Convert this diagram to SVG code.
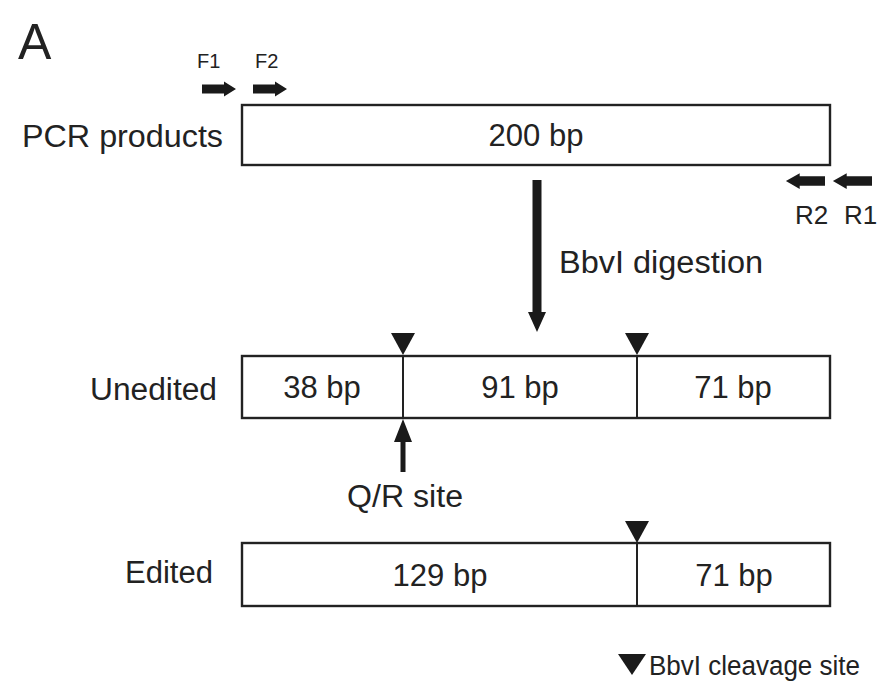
<svg xmlns="http://www.w3.org/2000/svg" width="884" height="682" viewBox="0 0 884 682">
<style>
text{font-family:"Liberation Sans",Arial,sans-serif;fill:#222}
.lbl{font-size:31px}
.sm{font-size:20px}
.box{fill:#fff;stroke:#222;stroke-width:2.4}
.div{stroke:#222;stroke-width:2}
.solid{fill:#1a1a1a}
</style>
<defs>
<polygon id="tri" points="-12,0 12,0 0,22"/>
<polygon id="rarrow" points="0,-4.5 22,-4.5 22,-7.5 34,0 22,7.5 22,4.5 0,4.5"/>
</defs>
<rect width="884" height="682" fill="#fff"/>
<text x="18" y="59" style="font-size:50px">A</text>

<g id="pcr">
<rect class="box" x="242" y="105" width="588" height="60"/>
<text class="lbl" x="536" y="146" text-anchor="middle">200 bp</text>
<text class="lbl" x="22" y="147" textLength="201" lengthAdjust="spacingAndGlyphs">PCR products</text>
</g>

<g id="primers">
<use href="#rarrow" x="202" y="89" class="solid"/>
<use href="#rarrow" x="253" y="89" class="solid"/>
<text class="sm" x="197" y="68">F1</text>
<text class="sm" x="255" y="68">F2</text>
<use href="#rarrow" class="solid" transform="translate(825,181) scale(-1.15,1.05)"/>
<use href="#rarrow" class="solid" transform="translate(872,181) scale(-1.15,1.05)"/>
<text x="795" y="224" style="font-size:26px">R2</text>
<text x="844" y="224" style="font-size:26px">R1</text>
</g>

<g id="unedited">
<rect class="box" x="242" y="356" width="588" height="62"/>
<line class="div" x1="403" y1="356" x2="403" y2="418"/>
<line class="div" x1="637" y1="356" x2="637" y2="418"/>
<text class="lbl" x="90" y="400" textLength="127" lengthAdjust="spacingAndGlyphs">Unedited</text>
<text class="lbl" x="322" y="398" text-anchor="middle">38 bp</text>
<text class="lbl" x="520" y="398" text-anchor="middle">91 bp</text>
<text class="lbl" x="733" y="398" text-anchor="middle">71 bp</text>
<use href="#tri" x="403" y="333" class="solid"/>
<use href="#tri" x="637" y="333" class="solid"/>
</g>

<g id="edited">
<rect class="box" x="242" y="543" width="588" height="63"/>
<line class="div" x1="637" y1="543" x2="637" y2="606"/>
<text class="lbl" x="125" y="583" textLength="88" lengthAdjust="spacingAndGlyphs">Edited</text>
<text class="lbl" x="440" y="586" text-anchor="middle">129 bp</text>
<text class="lbl" x="734" y="586" text-anchor="middle">71 bp</text>
<use href="#tri" x="637" y="521" class="solid"/>
</g>

<g id="connectors">
<polygon class="solid" points="532.5,180 541.5,180 541.5,312 546,312 537,332 528,312 532.5,312"/>
<text class="lbl" x="559" y="273" textLength="204" lengthAdjust="spacingAndGlyphs">BbvI digestion</text>
<polygon class="solid" points="400.5,472 405.5,472 405.5,442 412,442 403,419 394,442 400.5,442"/>
<text class="lbl" x="347" y="507" textLength="116" lengthAdjust="spacingAndGlyphs">Q/R site</text>
</g>

<g id="legend">
<polygon class="solid" points="618,654 646,654 632,675"/>
<text x="649" y="675" style="font-size:27px" textLength="211" lengthAdjust="spacingAndGlyphs">BbvI cleavage site</text>
</g>
</svg>
